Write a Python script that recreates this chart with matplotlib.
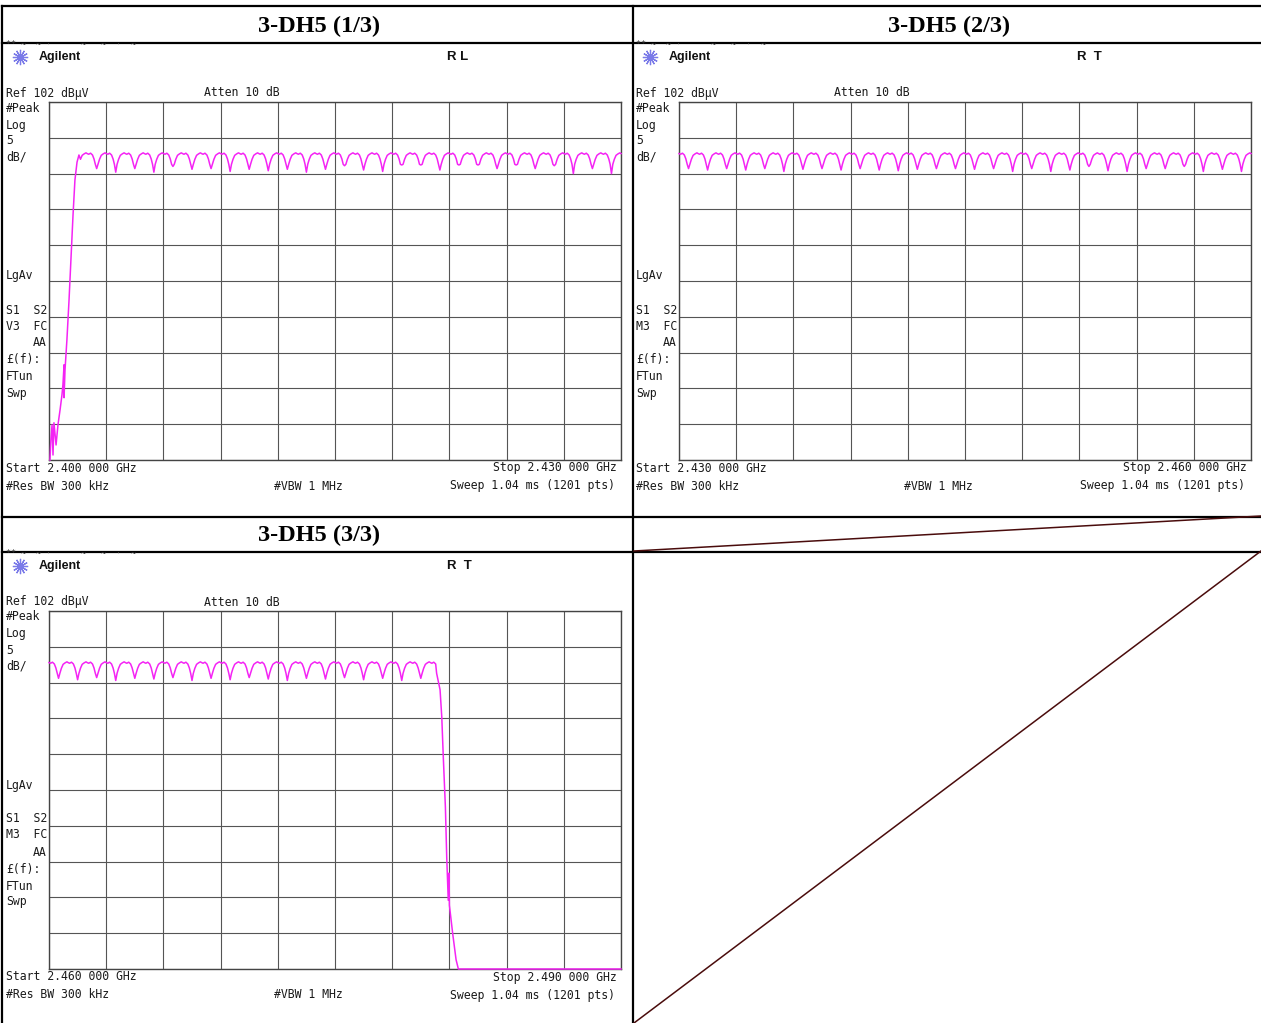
import numpy as np
import matplotlib
matplotlib.use('Agg')
import matplotlib.pyplot as plt

W, H = 1261, 1023

# panel titles and analyzer settings
titles = ['3-DH5 (1/3)', '3-DH5 (2/3)', '3-DH5 (3/3)']
start_mhz = [2400, 2430, 2460]
stop_mhz = [2430, 2460, 2490]
start_lbl = ['Start 2.400 000 GHz', 'Start 2.430 000 GHz', 'Start 2.460 000 GHz']
stop_lbl = ['Stop 2.430 000 GHz', 'Stop 2.460 000 GHz', 'Stop 2.490 000 GHz']
mode_lbl = ['V3  FC', 'M3  FC', 'M3  FC']
corner_lbl = ['R L', 'R  T', 'R  T']
ref_db = 102
db_div = 5

# hopping channels 2402..2480 MHz, dip level at each channel boundary (dBuV)
channels = np.arange(2402, 2481)
dips_p1 = [92.7, 92.2, 92.7, 92.2, 93.0, 92.6, 92.7, 92.3, 92.6, 92.4, 92.6, 92.2, 92.6, 93.1,
           92.5, 92.3, 93.2, 93.2, 92.5, 93.2, 93.2, 92.7, 93.2, 92.7, 93.1, 92.0, 92.7, 92.0]
dips_p2 = [92.7, 92.5, 92.7, 92.5, 92.7, 92.3, 92.6, 92.7, 92.5, 92.7, 92.5, 92.4, 92.6, 92.7, 92.7,
           92.6, 92.7, 92.3, 92.7, 92.3, 92.5, 93.0, 92.4, 92.3, 92.7, 92.7, 93.0, 92.3, 92.6, 92.3]
dips_p3 = [92.6, 92.4, 92.7, 92.3, 92.6, 92.5, 92.7, 92.3, 92.6, 92.4,
           92.7, 92.5, 92.3, 92.6, 92.5, 92.7, 92.4, 92.6, 92.3, 92.6]
top_db = 94.8
# hump profile inside one channel (MHz after boundary, dB relative to top)
hump_off = [0.07, 0.15, 0.24, 0.34, 0.44, 0.50, 0.58, 0.68, 0.78, 0.86, 0.93]
hump_rel = [-1.5, -0.8, -0.25, -0.05, 0.1, 0.0, -0.1, 0.05, -0.2, -0.75, -1.5]

# band edges
skirt_f = [2400.05, 2400.10, 2400.16, 2400.21, 2400.26, 2400.37, 2400.47, 2400.58, 2400.68, 2400.73,
           2400.79, 2400.79, 2400.84, 2400.94, 2401.05, 2401.15, 2401.26, 2401.36, 2401.47, 2401.57]
skirt_db = [52.0, 54.8, 56.9, 52.7, 57.2, 54.1, 56.9, 59.0, 61.1, 62.5,
            65.3, 60.7, 64.6, 68.8, 74.3, 79.9, 86.2, 91.1, 93.6, 94.6]
edge_f = [2480.33, 2480.51, 2480.60, 2480.68, 2480.79, 2480.86, 2480.94, 2480.98, 2481.00,
          2481.17, 2481.35, 2481.47, 2490.0]
edge_db = [93.3, 91.0, 87.2, 81.6, 74.6, 67.6, 61.6, 65.4, 60.9, 57.0, 53.3, 52.0, 52.0]

dips = dips_p1 + dips_p2 + dips_p3
tf = list(skirt_f)
tv = list(skirt_db)
for i, c in enumerate(channels):
    for off, rel in zip(hump_off, hump_rel):
        f = c - 0.5 + off
        if skirt_f[-1] < f < edge_f[0]:
            tf.append(f)
            tv.append(top_db + rel)
    if i < len(dips):
        tf.append(c + 0.5)
        tv.append(dips[i])
tf += edge_f
tv += edge_db
tf = np.array(tf)
tv = np.array(tv)

fig = plt.figure(figsize=(W / 100, H / 100), dpi=100)
bg = fig.add_axes([0, 0, 1, 1])
bg.set_xlim(0, W)
bg.set_ylim(H, 0)
bg.axis('off')

# table frame
lk = dict(color='black', lw=1.6)
bg.plot([1.5, 1.5], [6, H], **lk)
bg.plot([633, 633], [6, H], **lk)
bg.plot([1.5, W], [6, 6], **lk)
bg.plot([1.5, W], [43, 43], **lk)
bg.plot([1.5, W], [517, 517], **lk)
bg.plot([1.5, W], [551.5, 551.5], **lk)
# empty cell marks
bg.plot([634, W], [551, 516], color='#4a0c0c', lw=1.1)
bg.plot([634, W], [H, 551], color='#4a0c0c', lw=1.1)

title_pos = [(319, 26), (949, 26), (319, 535)]
for t, (x, y) in zip(titles, title_pos):
    bg.text(x, y, t, ha='center', va='center', fontsize=17.5, fontweight='bold',
            family='Liberation Serif')

mono = dict(family='DejaVu Sans Mono', fontsize=8.3, color='#1a1a1a', va='center')
origins = [(0, 0), (630, 0), (0, 509)]
for p, (dx, dy) in enumerate(origins):
    # cut-off status line at the top of each screen
    bg.text(6 + dx, 44.5 + dy, '** ~  ~ ·      ~   ~  ·  ~', fontsize=6, va='center',
            color='#333', family='DejaVu Sans Mono')
    bg.plot([20 + dx], [57 + dy], marker=(12, 2, 0), ms=11, mew=0.9, color='#7a7ae8')
    bg.text(39 + dx, 57 + dy, 'Agilent', fontsize=9, fontweight='bold', va='center',
            family='Liberation Sans', color='#111')
    bg.text(447 + dx, 57 + dy, corner_lbl[p], fontsize=9.5, fontweight='bold', va='center',
            family='Liberation Sans', color='#111')
    bg.text(6 + dx, 93 + dy, 'Ref 102 dBµV', **mono)
    bg.text(204 + dx, 93 + dy, 'Atten 10 dB', **mono)
    left = [('#Peak', 108), ('Log', 125), ('5', 141), ('dB/', 157), ('LgAv', 276),
            ('S1  S2', 310), (mode_lbl[p], 326), ('£(f):', 360), ('FTun', 377), ('Swp', 393)]
    for s, y in left:
        bg.text(6 + dx, y + dy, s, **mono)
    bg.text(47 + dx, 343 + dy, 'AA', ha='right', **mono)
    bg.text(6 + dx, 468 + dy, start_lbl[p], **mono)
    bg.text(6 + dx, 486 + dy, '#Res BW 300 kHz', **mono)
    bg.text(274 + dx, 486 + dy, '#VBW 1 MHz', **mono)
    bg.text(617 + dx, 468 + dy, stop_lbl[p], ha='right', **mono)
    bg.text(615 + dx, 486 + dy, 'Sweep 1.04 ms (1201 pts)', ha='right', **mono)

    # screen graticule
    x0, x1, y0, y1 = 49 + dx, 621 + dx, 102 + dy, 460 + dy
    ax = fig.add_axes([x0 / W, 1 - y1 / H, (x1 - x0) / W, (y1 - y0) / H])
    ax.set_xlim(start_mhz[p], stop_mhz[p])
    ax.set_ylim(ref_db - 10 * db_div, ref_db)
    ax.set_xticks(np.linspace(start_mhz[p], stop_mhz[p], 11))
    ax.set_yticks(np.arange(ref_db - 10 * db_div, ref_db + 1, db_div))
    ax.grid(True, color='#555555', lw=0.8)
    ax.tick_params(length=0, labelbottom=False, labelleft=False)
    for sp in ax.spines.values():
        sp.set_color('#444444')
        sp.set_linewidth(1.0)
    ax.set_facecolor('white')
    m = (tf >= start_mhz[p]) & (tf <= stop_mhz[p])
    ax.plot(tf[m], tv[m], color='#f424f4', lw=1.1, zorder=3, clip_on=False)

fig.savefig('out.png', dpi=100)
